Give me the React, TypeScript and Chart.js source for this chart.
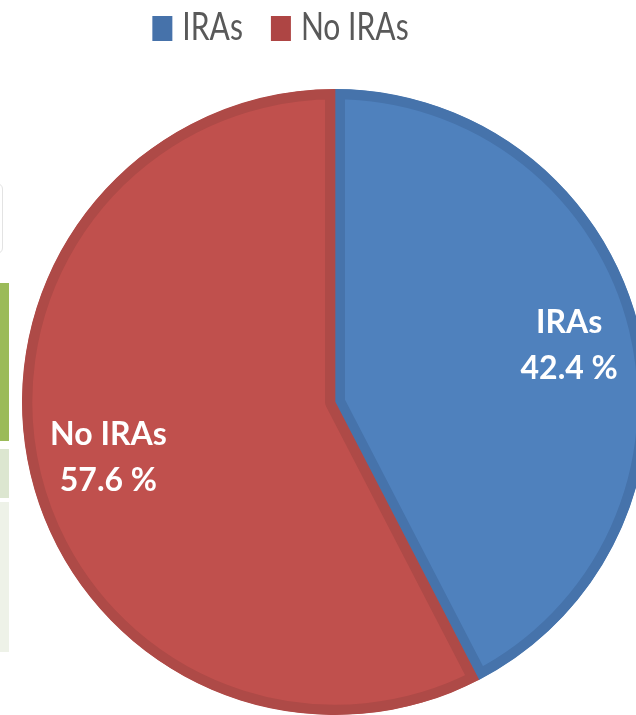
import React, { useEffect, useRef } from "react";
import { Chart, registerables } from "chart.js";

Chart.register(...registerables);

// ---- data ----
const categories: string[] = ["IRAs", "No IRAs"];
const shares: number[] = [42.4, 57.6];
const fillColors: string[] = ["#4F81BD", "#C0504D"];
const borderColors: string[] = ["#4673AB", "#AE4A47"];
const legendColors: string[] = ["#4672AA", "#AE4544"];

const LEGEND_FONT = "38.5px Lato, 'Open Sans', sans-serif";
const LEGEND_SQUEEZE = 0.78;
const LABEL_FONT = "bold 32px Lato, 'Open Sans', sans-serif";
const LABEL_RADIUS_FACTORS = [0.77, 0.745];

export default function App() {
  const ref = useRef<HTMLCanvasElement>(null);

  useEffect(() => {
    const canvas = ref.current;
    if (!canvas) return;

    const sliceLabels = {
      id: "sliceLabels",
      afterDatasetsDraw(chart: any) {
        const ctx = chart.ctx as CanvasRenderingContext2D;
        const meta = chart.getDatasetMeta(0);
        ctx.save();
        ctx.fillStyle = "#FFFFFF";
        ctx.font = LABEL_FONT;
        ctx.textAlign = "center";
        ctx.textBaseline = "alphabetic";
        meta.data.forEach((arc: any, i: number) => {
          const p = arc.getProps(["x", "y", "startAngle", "endAngle", "outerRadius"], true);
          const mid = (p.startAngle + p.endAngle) / 2;
          const r = p.outerRadius * LABEL_RADIUS_FACTORS[i];
          const cx = p.x + Math.cos(mid) * r;
          const cy = p.y + Math.sin(mid) * r;
          ctx.fillText(String(chart.data.labels[i]), cx, cy - 12);
          ctx.fillText(shares[i].toFixed(1) + " %", cx, cy + 34);
        });
        ctx.restore();
      },
    };

    const topLegend = {
      id: "topLegend",
      afterDraw(chart: any) {
        const ctx = chart.ctx as CanvasRenderingContext2D;
        const labels: string[] = chart.data.labels;
        ctx.save();
        ctx.font = LEGEND_FONT;
        const boxW = 20, boxH = 25, textGap = 10, itemGap = 28;
        const widths = labels.map((l) => ctx.measureText(l).width * LEGEND_SQUEEZE);
        const total = widths.reduce((a, w) => a + boxW + textGap + w, 0) + itemGap * (labels.length - 1);
        let x = 280.5 - total / 2;
        const boxTop = 16;
        const baseline = 40;
        labels.forEach((l, i) => {
          ctx.fillStyle = legendColors[i];
          ctx.fillRect(x, boxTop, boxW, boxH);
          x += boxW + textGap;
          ctx.fillStyle = "#595959";
          ctx.textAlign = "left";
          ctx.textBaseline = "alphabetic";
          ctx.save();
          ctx.translate(x, baseline);
          ctx.scale(LEGEND_SQUEEZE, 1);
          ctx.fillText(l, 0, 0);
          ctx.restore();
          x += widths[i] + itemGap;
        });
        ctx.restore();
      },
    };

    const chart = new Chart(canvas, {
      type: "pie",
      data: {
        labels: categories,
        datasets: [
          {
            data: shares,
            backgroundColor: fillColors,
            borderColor: borderColors,
            borderWidth: 10,
            borderAlign: "inner",
            radius: 313,
          } as any,
        ],
      },
      options: {
        responsive: false,
        animation: false,
        events: [],
        layout: { padding: { left: 0, right: 30, top: 44, bottom: 0 } },
        plugins: {
          legend: { display: false },
          tooltip: { enabled: false },
        },
      },
      plugins: [sliceLabels, topLegend],
    });

    return () => chart.destroy();
  }, []);

  return (
    <div
      style={{
        position: "fixed",
        left: 0,
        top: 0,
        width: 636,
        height: 715,
        overflow: "hidden",
        background: "#FFFFFF",
      }}
    >
      {/* slide background pieces visible at the left edge */}
      <div style={{ position: "absolute", left: -30, top: 183, width: 31, height: 69, border: "1px solid #E3E3E3", borderRadius: 6, background: "#FFFFFF" }} />
      <div style={{ position: "absolute", left: 0, top: 283, width: 9, height: 158, background: "#9BBB59" }} />
      <div style={{ position: "absolute", left: 0, top: 449, width: 9, height: 49, background: "#DCE6D0" }} />
      <div style={{ position: "absolute", left: 0, top: 502, width: 9, height: 150, background: "#EEF2E8" }} />
      <canvas ref={ref} width={700} height={760} style={{ position: "absolute", left: 0, top: 0 }} />
    </div>
  );
}
